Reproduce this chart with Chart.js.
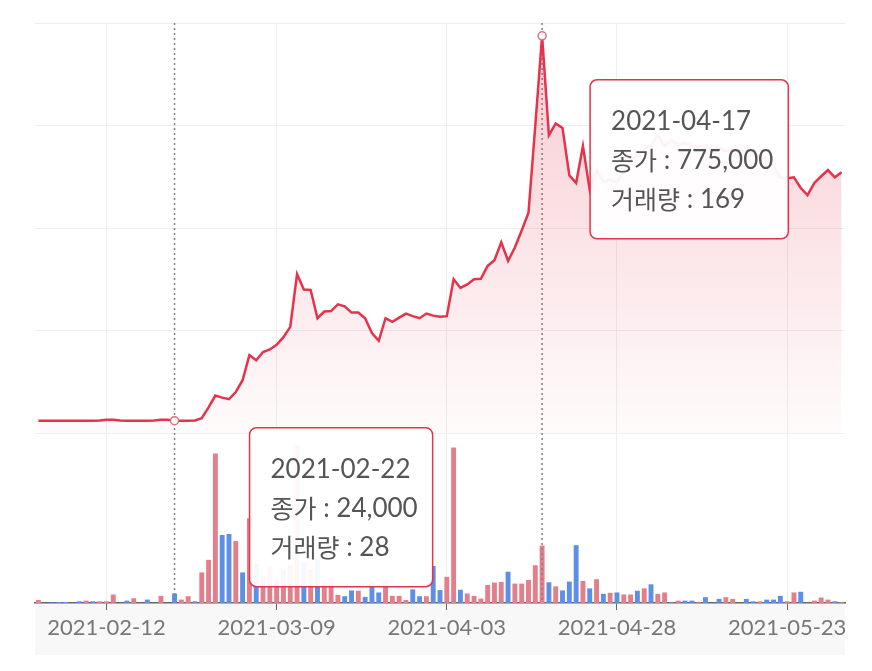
<!DOCTYPE html>
<html>
<head>
<meta charset="utf-8">
<script src="https://cdn.jsdelivr.net/npm/chart.js@4.4.0/dist/chart.umd.min.js"></script>
<style>
  html, body { margin: 0; padding: 0; background: #fff; }
  #wrap { width: 872px; height: 671px; }
</style>
</head>
<body>
<div id="wrap"><canvas id="priceChart"></canvas></div>
<script>
// daily data, 2021-02-02 .. 2021-05-31
const startDate = '2021-02-02';
const dayCount = 119;
const tickDates = ['2021-02-12', '2021-03-09', '2021-04-03', '2021-04-28', '2021-05-23'];
const tooltipDates = ['2021-02-22', '2021-04-17'];

const closePrice = [
  24000, 24000, 24000, 24000, 24000, 24000, 24000, 24000, 24000, 24500,
  26000, 26000, 24500, 24000, 24000, 24000, 24000, 24500, 26000, 26000,
  24000, 24000, 24000, 24500, 29000, 50000, 73000, 69000, 66000, 80000,
  103000, 152000, 142000, 158000, 163000, 172000, 187000, 207000, 310000, 280000,
  279000, 224000, 237000, 238000, 251000, 247000, 235000, 235000, 224000, 195000,
  180000, 224000, 217000, 225000, 233000, 228000, 224000, 233000, 229000, 227000,
  228000, 300000, 283000, 290000, 300000, 301000, 326000, 337000, 372000, 336000,
  362000, 395000, 430000, 600000, 775000, 581000, 604000, 595000, 503000, 488000,
  560000, 474000, 513000, 490000, 494000, 490000, 513000, 533000, 542000, 552000,
  562000, 581000, 560000, 572000, 562000, 566000, 560000, 558000, 562000, 552000,
  556000, 550000, 553000, 548000, 551000, 546000, 542000, 536000, 519000, 499000,
  497000, 499000, 478000, 464000, 488000, 501000, 513000, 499000, 509000
];

const volume = [
  9, 0, 1, 3, 3, 0, 5, 7, 5, 5,
  5, 25, 0, 7, 14, 0, 10, 0, 21, 0,
  28, 10, 20, 5, 90, 127, 440, 200, 203, 182,
  90, 249, 115, 80, 105, 70, 97, 112, 465, 121,
  100, 131, 60, 75, 24, 20, 37, 36, 18, 63,
  31, 68, 21, 21, 9, 40, 20, 20, 109, 38,
  77, 457, 39, 28, 21, 13, 53, 60, 62, 92,
  57, 57, 68, 111, 169, 61, 49, 37, 63, 170,
  65, 43, 70, 27, 30, 31, 25, 25, 36, 43,
  55, 27, 31, 2, 7, 7, 7, 2, 17, 0,
  12, 17, 12, 0, 12, 5, 5, 10, 10, 21,
  5, 31, 33, 0, 7, 16, 10, 5, 2
];

// 1 = red (up) bar, 0 = blue (down) bar
const upDay = [
  1, 1, 0, 0, 0, 1, 0, 1, 0, 1,
  1, 1, 1, 0, 1, 1, 0, 1, 1, 1,
  0, 1, 1, 0, 1, 1, 1, 0, 0, 1,
  0, 1, 0, 1, 1, 1, 1, 1, 1, 0,
  1, 0, 1, 1, 1, 0, 0, 1, 0, 0,
  0, 1, 1, 1, 1, 0, 0, 1, 0, 0,
  1, 1, 0, 1, 1, 1, 1, 1, 1, 0,
  1, 1, 1, 1, 1, 0, 1, 0, 0, 0,
  1, 0, 1, 0, 1, 0, 1, 1, 0, 1,
  0, 1, 1, 0, 1, 0, 0, 1, 0, 0,
  0, 1, 1, 0, 0, 0, 1, 0, 0, 0,
  1, 1, 0, 0, 1, 1, 1, 0, 1
];

const LINE_RED = '#e5334b';
const BAR_RED = '#e27f8b';
const BAR_BLUE = '#5d8fe5';
const LATIN_FONT = '26px Lato, sans-serif';
const HANGUL_FONT = '25px "Noto Sans CJK KR", sans-serif';

function makeDates(start, n) {
  const out = [];
  const d = new Date(start + 'T00:00:00Z');
  for (let i = 0; i < n; i++) {
    out.push(d.toISOString().slice(0, 10));
    d.setUTCDate(d.getUTCDate() + 1);
  }
  return out;
}
const dates = makeDates(startDate, dayCount);
const markedIdx = tooltipDates.map(d => dates.indexOf(d));

// grey strip under the x axis
const bandPlugin = {
  id: 'band',
  beforeDraw(chart) {
    const { ctx, chartArea } = chart;
    ctx.save();
    ctx.fillStyle = '#f8f8f8';
    ctx.fillRect(chartArea.left, chartArea.bottom, chartArea.right - chartArea.left, 52);
    ctx.restore();
  }
};

// one tooltip line = list of [text, font] pieces
function lineWidth(ctx, parts) {
  let w = 0;
  parts.forEach(([t, f]) => { ctx.font = f; w += ctx.measureText(t).width; });
  return w;
}
function drawLine(ctx, parts, x, y) {
  parts.forEach(([t, f]) => {
    ctx.font = f;
    ctx.fillText(t, x, y);
    x += ctx.measureText(t).width;
  });
}

// dotted guide lines + two fixed info boxes
const tipOffsets = [[75, 7], [48, 44]];
const infoPlugin = {
  id: 'info',
  afterDatasetDraw(chart, args) {
    if (args.index !== 1) return;
    const { ctx, chartArea, scales } = chart;
    ctx.save();
    ctx.strokeStyle = '#808080';
    ctx.lineWidth = 1.5;
    ctx.setLineDash([2, 3]);
    markedIdx.forEach(idx => {
      const px = scales.x.getPixelForValue(idx);
      ctx.beginPath();
      ctx.moveTo(px, chartArea.top);
      ctx.lineTo(px, chartArea.bottom);
      ctx.stroke();
    });
    ctx.restore();
  },
  afterDraw(chart) {
    const { ctx, scales } = chart;
    ctx.save();
    markedIdx.forEach((idx, k) => {
      const px = scales.x.getPixelForValue(idx);
      const py = scales.yPrice.getPixelForValue(closePrice[idx]);
      const lines = [
        [[dates[idx], LATIN_FONT]],
        [['종가', HANGUL_FONT], [' : ' + closePrice[idx].toLocaleString('en-US'), LATIN_FONT]],
        [['거래량', HANGUL_FONT], [' : ' + volume[idx], LATIN_FONT]]
      ];
      const w = Math.max(...lines.map(p => lineWidth(ctx, p))) + 36;
      const h = 159;
      const bx = px + tipOffsets[k][0];
      const by = py + tipOffsets[k][1];
      ctx.beginPath();
      ctx.roundRect(bx, by, w, h, 7);
      ctx.fillStyle = 'rgba(255,255,255,0.94)';
      ctx.fill();
      ctx.lineWidth = 1.5;
      ctx.strokeStyle = LINE_RED;
      ctx.stroke();
      ctx.fillStyle = '#555';
      ctx.textBaseline = 'middle';
      ctx.textAlign = 'left';
      lines.forEach((p, j) => drawLine(ctx, p, bx + 21, by + 42 + j * 39));
    });
    ctx.restore();
  }
};

const ctx = document.getElementById('priceChart');
new Chart(ctx, {
  data: {
    labels: dates,
    datasets: [
      {
        type: 'line',
        label: '종가',
        data: closePrice,
        yAxisID: 'yPrice',
        borderColor: LINE_RED,
        borderWidth: 2.5,
        tension: 0,
        fill: 'origin',
        backgroundColor: (c) => {
          const s = c.chart.scales.yPrice;
          if (!c.chart.chartArea || !s || !isFinite(s.top) || !isFinite(s.bottom)) {
            return 'rgba(229,51,75,0.1)';
          }
          const g = c.chart.ctx.createLinearGradient(0, s.top, 0, s.bottom);
          g.addColorStop(0, 'rgba(229,51,75,0.26)');
          g.addColorStop(1, 'rgba(229,51,75,0.02)');
          return g;
        },
        pointRadius: (c) => markedIdx.includes(c.dataIndex) ? 4 : 0,
        pointBackgroundColor: '#fff',
        pointBorderColor: '#e07080',
        pointBorderWidth: 1.5,
        order: 1
      },
      {
        type: 'bar',
        label: '거래량',
        data: volume,
        yAxisID: 'yVol',
        backgroundColor: upDay.map(u => u ? BAR_RED : BAR_BLUE),
        order: 2
      }
    ]
  },
  options: {
    responsive: true,
    maintainAspectRatio: false,
    animation: false,
    events: [],
    layout: { padding: { left: 35, right: 27, top: 23, bottom: 16 } },
    plugins: {
      legend: { display: false },
      tooltip: { enabled: false }
    },
    scales: {
      x: {
        type: 'category',
        offset: true,
        grid: { offset: false, color: '#eeeeee', tickColor: '#666', tickLength: 7 },
        border: { color: '#666', width: 1.5 },
        ticks: {
          autoSkip: false,
          maxRotation: 0,
          color: '#777',
          padding: 5,
          font: { family: 'Lato', size: 22 }
        },
        afterBuildTicks: axis => {
          axis.ticks = axis.ticks.filter(t => tickDates.includes(dates[t.value]));
        },
        afterFit: axis => { axis.height = 52; }
      },
      // volume strip listed first so it stacks below the price panel
      yVol: {
        type: 'linear',
        position: 'left',
        stack: 'main',
        stackWeight: 170,
        min: 0,
        max: 500,
        ticks: { display: false },
        grid: { display: false, drawTicks: false },
        border: { display: false }
      },
      yPrice: {
        type: 'linear',
        position: 'left',
        stack: 'main',
        stackWeight: 410,
        min: 0,
        max: 800000,
        ticks: { display: false, stepSize: 200000 },
        grid: { color: '#eeeeee', drawTicks: false },
        border: { display: false }
      }
    }
  },
  plugins: [bandPlugin, infoPlugin]
});
</script>
</body>
</html>
